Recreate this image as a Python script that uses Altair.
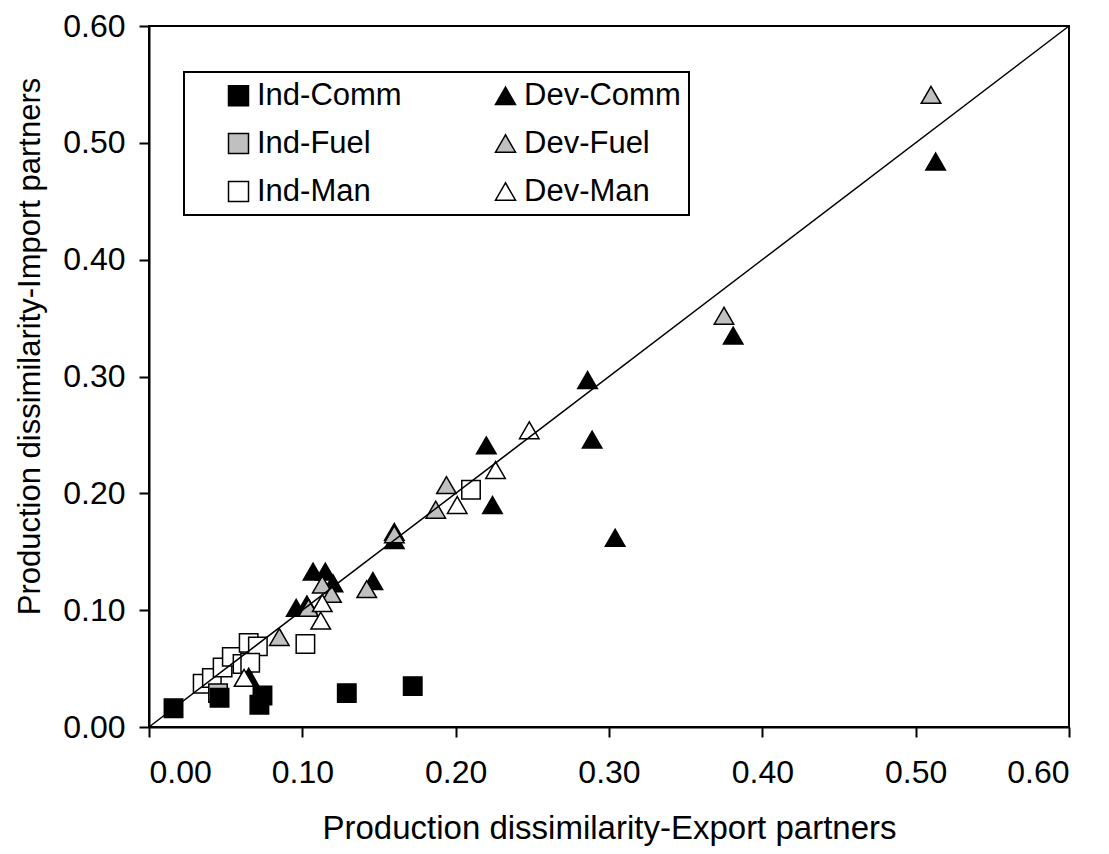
import altair as alt
import pandas as pd

# ---- data ----
ind_comm_x = [0.016, 0.046, 0.072, 0.074, 0.129, 0.172]
ind_comm_y = [0.016, 0.025, 0.019, 0.027, 0.029, 0.035]

ind_fuel_x = [0.045]
ind_fuel_y = [0.029]

ind_man_x = [0.035, 0.041, 0.048, 0.054, 0.061, 0.065, 0.071, 0.066, 0.102, 0.210]
ind_man_y = [0.037, 0.042, 0.051, 0.060, 0.054, 0.072, 0.069, 0.055, 0.071, 0.203]

dev_comm_x = [0.513, 0.381, 0.286, 0.289, 0.220, 0.224, 0.304, 0.160, 0.160,
              0.107, 0.115, 0.120, 0.146, 0.096, 0.103, 0.065]
dev_comm_y = [0.484, 0.335, 0.297, 0.246, 0.241, 0.190, 0.162, 0.167, 0.160,
              0.133, 0.133, 0.123, 0.125, 0.102, 0.105, 0.043]

dev_fuel_x = [0.510, 0.375, 0.194, 0.187, 0.160, 0.113, 0.119, 0.142, 0.104, 0.085]
dev_fuel_y = [0.541, 0.352, 0.207, 0.186, 0.165, 0.122, 0.114, 0.118, 0.102, 0.077]

dev_man_x = [0.248, 0.226, 0.201, 0.112, 0.113, 0.062]
dev_man_y = [0.254, 0.220, 0.190, 0.091, 0.106, 0.042]

line_x = [0.0, 0.6]
line_y = [0.0, 0.6]

ticks = [0.0, 0.1, 0.2, 0.3, 0.4, 0.5, 0.6]

series_order = ["Ind-Comm", "Ind-Fuel", "Ind-Man", "Dev-Comm", "Dev-Fuel", "Dev-Man"]
shapes = ["square", "square", "square", "triangle-up", "triangle-up", "triangle-up"]
fills = ["#000000", "#c0c0c0", "#ffffff", "#000000", "#c0c0c0", "#ffffff"]
strokes = ["#000000"] * 6


def frame(name, xs, ys):
    return pd.DataFrame({"x": xs, "y": ys, "series": name})


squares = pd.concat([
    frame("Ind-Man", ind_man_x, ind_man_y),
    frame("Ind-Fuel", ind_fuel_x, ind_fuel_y),
    frame("Ind-Comm", ind_comm_x, ind_comm_y),
], ignore_index=True)

triangles = pd.concat([
    frame("Dev-Comm", dev_comm_x, dev_comm_y),
    frame("Dev-Fuel", dev_fuel_x, dev_fuel_y),
    frame("Dev-Man", dev_man_x, dev_man_y),
], ignore_index=True)

line_df = pd.DataFrame({"x": line_x, "y": line_y})

FONT = "Liberation Sans"

xscale = alt.Scale(domain=[0, 0.6], nice=False, zero=False)
yscale = alt.Scale(domain=[0, 0.6], nice=False, zero=False)

xaxis = alt.Axis(values=ticks, format=".2f", title="Production dissimilarity-Export partners",
                 grid=False, tickSize=10, labelPadding=20, titlePadding=24,
                 titleFontSize=33)
yaxis = alt.Axis(values=ticks, format=".2f", title="Production dissimilarity-Import partners",
                 grid=False, tickSize=10, labelPadding=14, titlePadding=16, titleY=320,
                 titleFontSize=31)

legend = alt.Legend(
    title=None, orient="none", legendX=35, legendY=46, columns=2, direction="vertical",
    strokeColor="black", padding=8, rowPadding=16, columnPadding=57,
    symbolOffset=31, labelOffset=3, symbolSize=400,
    symbolStrokeColor="black", symbolStrokeWidth=1.5,
    labelFontSize=31, labelFont=FONT, labelColor="black", labelLimit=400,
)

fill_enc = alt.Fill("series:N", scale=alt.Scale(domain=series_order, range=fills), legend=legend)
shape_enc = alt.Shape("series:N", scale=alt.Scale(domain=series_order, range=shapes), legend=legend)
stroke_enc = alt.Stroke("series:N", scale=alt.Scale(domain=series_order, range=strokes), legend=legend)

base_x = alt.X("x:Q", scale=xscale, axis=xaxis)
base_y = alt.Y("y:Q", scale=yscale, axis=yaxis)

sq_layer = alt.Chart(squares).mark_point(filled=True, strokeWidth=1.5,
                                         size=340, opacity=1).encode(
    x=base_x, y=base_y, fill=fill_enc, shape=shape_enc, stroke=stroke_enc)

tri_layer = alt.Chart(triangles).mark_point(filled=True, strokeWidth=1.5,
                                            size=380, opacity=1).encode(
    x=base_x, y=base_y, fill=fill_enc, shape=shape_enc, stroke=stroke_enc)

line_layer = alt.Chart(line_df).mark_line(color="black", strokeWidth=1.5).encode(
    x=alt.X("x:Q", scale=xscale), y=alt.Y("y:Q", scale=yscale))

chart = alt.layer(sq_layer, tri_layer, line_layer).properties(
    width=920, height=701,
    background="white",
    autosize=alt.AutoSizeParams(type="none"),
    padding={"left": 141, "top": 18, "right": 32, "bottom": 124},
).configure_view(
    stroke="black", strokeWidth=2
).configure_axis(
    domainColor="black", domainWidth=2, tickColor="black", tickWidth=2,
    labelFont=FONT, labelFontSize=32, labelColor="black",
    titleFont=FONT, titleColor="black", titleFontWeight="normal",
).configure_legend(
    strokeWidth=2
)

chart.save("out.html", embed_options={"renderer": "svg", "actions": False})
